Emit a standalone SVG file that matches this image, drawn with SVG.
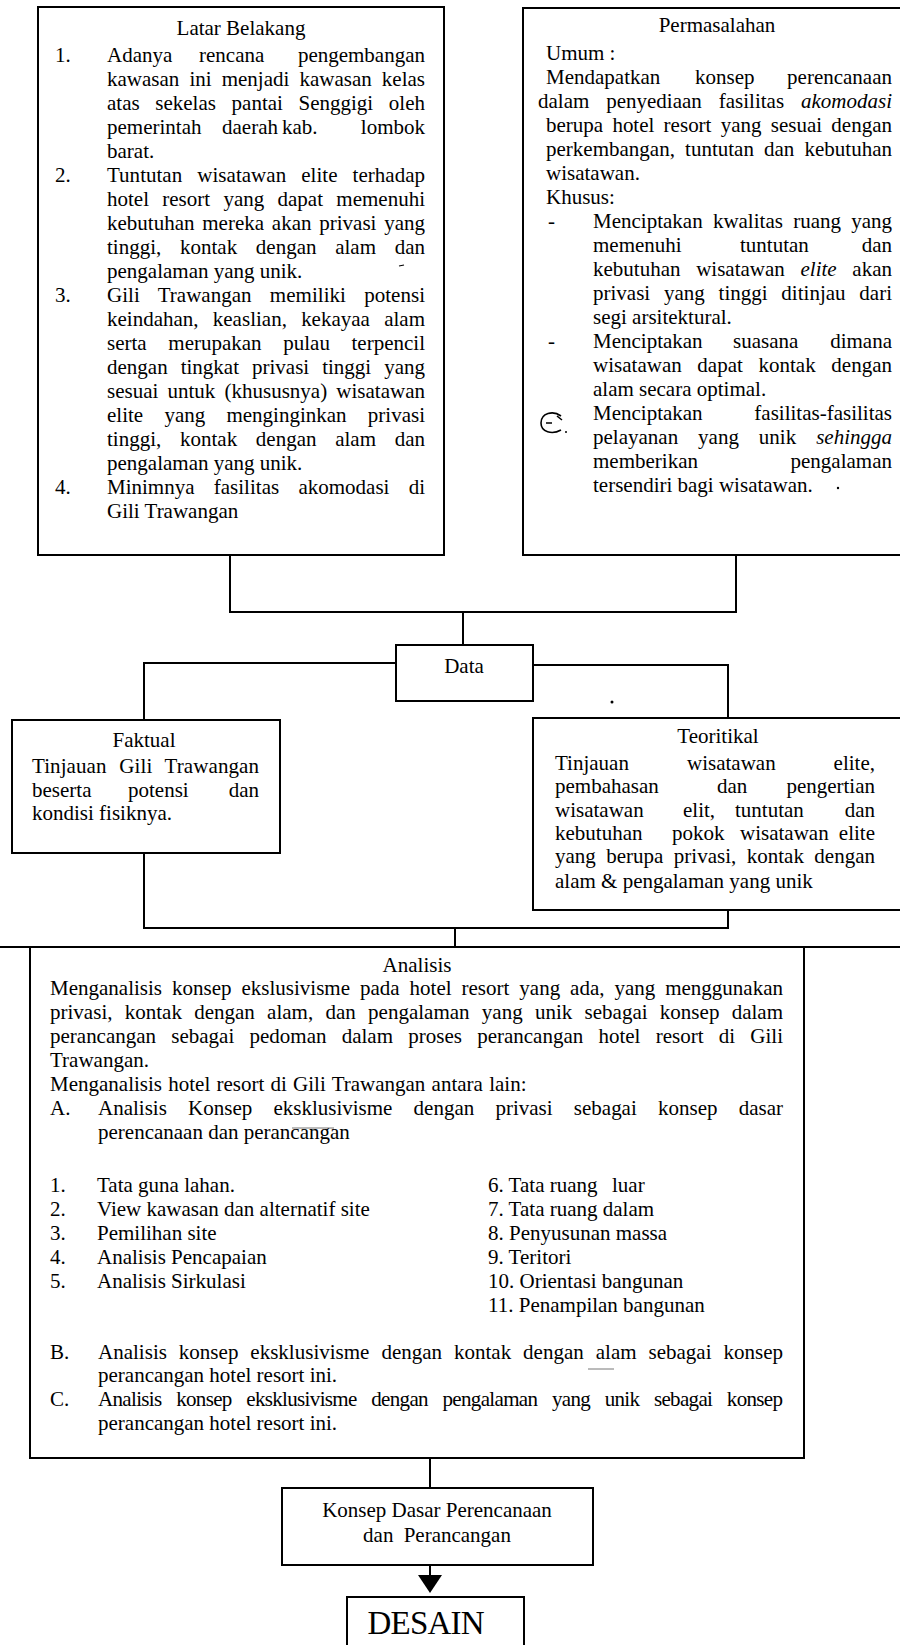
<svg xmlns="http://www.w3.org/2000/svg" width="900" height="1645" viewBox="0 0 900 1645">
<style>
.t{font-family:"Liberation Serif","Times New Roman",serif;font-size:21px;fill:#000}
.c{text-anchor:middle}
.e{text-anchor:end}
.i{font-style:italic}
.box{fill:#fff;stroke:#000;stroke-width:2}
.ln{fill:none;stroke:#000;stroke-width:2}
</style>
<rect width="900" height="1645" fill="#fff"/>
<g id="connectors">
<path class="ln" d="M230,555 V612 H736 V555"/>
<path class="ln" d="M463,612 V645"/>
<path class="ln" d="M396,663 H144 V720"/>
<path class="ln" d="M533,665 H728 V718"/>
<path class="ln" d="M144,853 V928 H728 V910"/>
<path class="ln" d="M455,928 V947"/>
<path class="ln" d="M0,947 H900"/>
<path class="ln" d="M430,1458 V1488"/>
<path class="ln" d="M430,1565 V1577"/>
<polygon points="418,1575 442,1575 430,1593" fill="#000"/>
</g>
<g id="latar">
<rect class="box" x="38" y="7" width="406" height="548"/>
<text class="t c" x="241" y="35">Latar Belakang</text>
<text class="t" x="55" y="62">1.</text>
<text class="t" x="107" y="62">Adanya</text><text class="t" x="199" y="62">rencana</text><text class="t e" x="425" y="62">pengembangan</text>
<text class="t" x="107" y="86" style="word-spacing:4.8px" textLength="318" lengthAdjust="spacing">kawasan ini menjadi kawasan kelas</text>
<text class="t" x="107" y="110" style="word-spacing:10.4px" textLength="318" lengthAdjust="spacing">atas sekelas pantai Senggigi oleh</text>
<text class="t" x="107" y="134">pemerintah</text><text class="t" x="222" y="134">daerah</text><text class="t" x="282" y="134">kab.</text><text class="t e" x="425" y="134">lombok</text>
<text class="t" x="107" y="158">barat.</text>
<text class="t" x="55" y="182">2.</text>
<text class="t" x="107" y="182" style="word-spacing:9.8px" textLength="318" lengthAdjust="spacing">Tuntutan wisatawan elite terhadap</text>
<text class="t" x="107" y="206" style="word-spacing:8px" textLength="318" lengthAdjust="spacing">hotel resort yang dapat memenuhi</text>
<text class="t" x="107" y="230" style="word-spacing:2.5px" textLength="318" lengthAdjust="spacing">kebutuhan mereka akan privasi yang</text>
<text class="t" x="107" y="254" style="word-spacing:13.4px" textLength="318" lengthAdjust="spacing">tinggi, kontak dengan alam dan</text>
<text class="t" x="107" y="278">pengalaman yang unik.</text>
<text class="t" x="55" y="302">3.</text>
<text class="t" x="107" y="302" style="word-spacing:12.9px" textLength="318" lengthAdjust="spacing">Gili Trawangan memiliki potensi</text>
<text class="t" x="107" y="326" style="word-spacing:9px" textLength="318" lengthAdjust="spacing">keindahan, keaslian, kekayaa alam</text>
<text class="t" x="107" y="350" style="word-spacing:16.4px" textLength="318" lengthAdjust="spacing">serta merupakan pulau terpencil</text>
<text class="t" x="107" y="374" style="word-spacing:7.7px" textLength="318" lengthAdjust="spacing">dengan tingkat privasi tinggi yang</text>
<text class="t" x="107" y="398" style="word-spacing:3.9px" textLength="318" lengthAdjust="spacing">sesuai untuk (khususnya) wisatawan</text>
<text class="t" x="107" y="422" style="word-spacing:16px" textLength="318" lengthAdjust="spacing">elite yang menginginkan privasi</text>
<text class="t" x="107" y="446" style="word-spacing:13.4px" textLength="318" lengthAdjust="spacing">tinggi, kontak dengan alam dan</text>
<text class="t" x="107" y="470">pengalaman yang unik.</text>
<text class="t" x="55" y="494">4.</text>
<text class="t" x="107" y="494" style="word-spacing:14px" textLength="318" lengthAdjust="spacing">Minimnya fasilitas akomodasi di</text>
<text class="t" x="107" y="518">Gili Trawangan</text>
<path d="M399,266 L404,265" stroke="#000" stroke-width="1.2"/>
</g>
<g id="permasalahan">
<rect class="box" x="523" y="8" width="390" height="547"/>
<text class="t c" x="717" y="32">Permasalahan</text>
<text class="t" x="546" y="60">Umum :</text>
<text class="t" x="546" y="84">Mendapatkan</text><text class="t" x="695" y="84">konsep</text><text class="t e" x="892" y="84">perencanaan</text>
<text class="t" x="538" y="108" style="word-spacing:11.7px" textLength="354" lengthAdjust="spacing">dalam penyediaan fasilitas <tspan class="i">akomodasi</tspan></text>
<text class="t" x="546" y="132" style="word-spacing:4px" textLength="346" lengthAdjust="spacing">berupa hotel resort yang sesuai dengan</text>
<text class="t" x="546" y="156" style="word-spacing:4.9px" textLength="346" lengthAdjust="spacing">perkembangan, tuntutan dan kebutuhan</text>
<text class="t" x="546" y="180">wisatawan.</text>
<text class="t" x="546" y="204">Khusus:</text>
<text class="t" x="548" y="228">-</text>
<text class="t" x="593" y="228" style="word-spacing:5px" textLength="299" lengthAdjust="spacing">Menciptakan kwalitas ruang yang</text>
<text class="t" x="593" y="252">memenuhi</text><text class="t" x="740" y="252">tuntutan</text><text class="t e" x="892" y="252">dan</text>
<text class="t" x="593" y="276" style="word-spacing:10.4px" textLength="299" lengthAdjust="spacing">kebutuhan wisatawan <tspan class="i">elite</tspan> akan</text>
<text class="t" x="593" y="300" style="word-spacing:8.5px" textLength="299" lengthAdjust="spacing">privasi yang tinggi ditinjau dari</text>
<text class="t" x="593" y="324">segi arsitektural.</text>
<text class="t" x="548" y="348">-</text>
<text class="t" x="593" y="348">Menciptakan</text><text class="t" x="733" y="348">suasana</text><text class="t e" x="892" y="348">dimana</text>
<text class="t" x="593" y="372" style="word-spacing:10.4px" textLength="299" lengthAdjust="spacing">wisatawan dapat kontak dengan</text>
<text class="t" x="593" y="396">alam secara optimal.</text>
<path d="M561,416 C553,410 541,413 541,423 C541,432 552,435 561,430 M546,423 H552 M557,416 L562,420" fill="none" stroke="#000" stroke-width="1.6"/>
<circle cx="566" cy="432" r="1" fill="#000"/>
<text class="t" x="593" y="420">Menciptakan</text><text class="t e" x="892" y="420">fasilitas-fasilitas</text>
<text class="t" x="593" y="444" style="word-spacing:14.7px" textLength="299" lengthAdjust="spacing">pelayanan yang unik <tspan class="i">sehingga</tspan></text>
<text class="t" x="593" y="468">memberikan</text><text class="t e" x="892" y="468">pengalaman</text>
<text class="t" x="593" y="492">tersendiri bagi wisatawan.</text>
<circle cx="838" cy="488" r="1.2" fill="#000"/>
</g>
<g id="data">
<rect class="box" x="396" y="645" width="137" height="56"/>
<text class="t c" x="464" y="673">Data</text>
</g>
<g id="faktual">
<rect class="box" x="12" y="720" width="268" height="133"/>
<text class="t c" x="144" y="747">Faktual</text>
<text class="t" x="32" y="773" style="word-spacing:7.3px" textLength="227" lengthAdjust="spacing">Tinjauan Gili Trawangan</text>
<text class="t" x="32" y="797">beserta</text><text class="t" x="128" y="797">potensi</text><text class="t e" x="259" y="797">dan</text>
<text class="t" x="32" y="820">kondisi fisiknya.</text>
</g>
<g id="teoritikal">
<rect class="box" x="533" y="718" width="380" height="192"/>
<text class="t c" x="718" y="743">Teoritikal</text>
<text class="t" x="555" y="770">Tinjauan</text><text class="t" x="687" y="770">wisatawan</text><text class="t e" x="875" y="770">elite,</text>
<text class="t" x="555" y="793">pembahasan</text><text class="t" x="717" y="793">dan</text><text class="t e" x="875" y="793">pengertian</text>
<text class="t" x="555" y="817">wisatawan</text><text class="t" x="683" y="817">elit,</text><text class="t" x="735" y="817">tuntutan</text><text class="t e" x="875" y="817">dan</text>
<text class="t" x="555" y="840">kebutuhan</text><text class="t" x="672" y="840">pokok</text><text class="t" x="740" y="840">wisatawan</text><text class="t e" x="875" y="840">elite</text>
<text class="t" x="555" y="863" style="word-spacing:5.2px" textLength="320" lengthAdjust="spacing">yang berupa privasi, kontak dengan</text>
<text class="t" x="555" y="888">alam &amp; pengalaman yang unik</text>
</g>
<circle cx="612" cy="702" r="1.5" fill="#000"/>
<g id="analisis">
<rect class="box" x="30" y="947" width="774" height="511"/>
<text class="t c" x="417" y="972">Analisis</text>
<text class="t" x="50" y="995" style="word-spacing:4.7px" textLength="733" lengthAdjust="spacing">Menganalisis konsep ekslusivisme pada hotel resort yang ada, yang menggunakan</text>
<text class="t" x="50" y="1019" style="word-spacing:7px" textLength="733" lengthAdjust="spacing">privasi, kontak dengan alam, dan pengalaman yang unik sebagai konsep dalam</text>
<text class="t" x="50" y="1043" style="word-spacing:10px" textLength="733" lengthAdjust="spacing">perancangan sebagai pedoman dalam proses perancangan hotel resort di Gili</text>
<text class="t" x="50" y="1067">Trawangan.</text>
<text class="t" x="50" y="1091" style="word-spacing:1px">Menganalisis  hotel resort di Gili Trawangan antara lain:</text>
<text class="t" x="50" y="1115">A.</text>
<text class="t" x="98" y="1115" style="word-spacing:16px" textLength="685" lengthAdjust="spacing">Analisis Konsep eksklusivisme dengan privasi sebagai konsep dasar</text>
<path d="M292,1128 H334" stroke="#777" stroke-width="1"/>
<text class="t" x="98" y="1139">perencanaan dan perancangan</text>
<text class="t" x="50" y="1192">1.</text><text class="t" x="97" y="1192">Tata guna lahan.</text>
<text class="t" x="50" y="1216">2.</text><text class="t" x="97" y="1216">View kawasan dan alternatif site</text>
<text class="t" x="50" y="1240">3.</text><text class="t" x="97" y="1240">Pemilihan site</text>
<text class="t" x="50" y="1264">4.</text><text class="t" x="97" y="1264">Analisis Pencapaian</text>
<text class="t" x="50" y="1288">5.</text><text class="t" x="97" y="1288">Analisis Sirkulasi</text>
<text class="t" x="488" y="1192">6. Tata ruang</text><text class="t" x="612" y="1192">luar</text>
<text class="t" x="488" y="1216">7. Tata ruang dalam</text>
<text class="t" x="488" y="1240">8. Penyusunan massa</text>
<text class="t" x="488" y="1264">9. Teritori</text>
<text class="t" x="488" y="1288">10. Orientasi bangunan</text>
<text class="t" x="488" y="1312">11. Penampilan bangunan</text>
<text class="t" x="50" y="1359">B.</text>
<text class="t" x="98" y="1359" style="word-spacing:6.7px" textLength="685" lengthAdjust="spacing">Analisis konsep eksklusivisme dengan kontak dengan alam sebagai konsep</text>
<path d="M588,1369 H614" stroke="#777" stroke-width="1"/>
<text class="t" x="98" y="1382">perancangan hotel resort ini.</text>
<text class="t" x="50" y="1406">C.</text>
<text class="t" x="98" y="1406" style="word-spacing:10px" textLength="685" lengthAdjust="spacing">Analisis konsep eksklusivisme dengan pengalaman yang unik sebagai konsep</text>
<text class="t" x="98" y="1430">perancangan hotel resort ini.</text>
</g>
<g id="konsep">
<rect class="box" x="282" y="1488" width="311" height="77"/>
<text class="t c" x="437" y="1517">Konsep Dasar Perencanaan</text>
<text class="t c" x="437" y="1542">dan <tspan dx="5">Perancangan</tspan></text>
</g>
<g id="desain">
<rect class="box" x="347" y="1597" width="177" height="70"/>
<text class="t c" x="426" y="1634" style="font-size:33px" textLength="117" lengthAdjust="spacing">DESAIN</text>
</g>
</svg>
